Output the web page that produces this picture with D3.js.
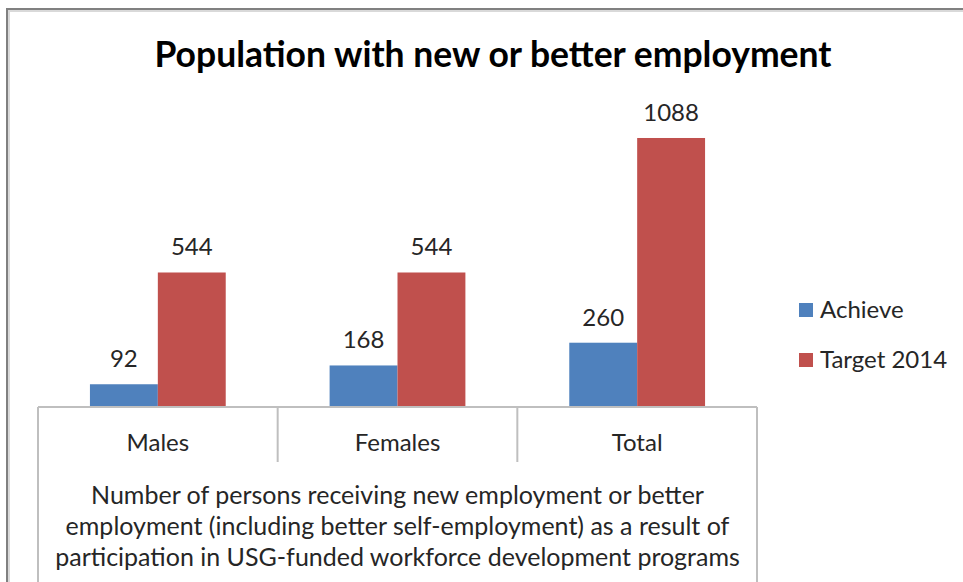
<!DOCTYPE html>
<html>
<head>
<meta charset="utf-8">
<script src="https://cdn.jsdelivr.net/npm/d3@7"></script>
<style>
  html, body { margin: 0; padding: 0; background: #fff; }
  svg { display: block; }
  text { font-family: Lato, "Open Sans", sans-serif; fill: #262626; }
</style>
</head>
<body>
<svg id="chart" width="963" height="582"></svg>
<script>
// Chart data
const categories = ["Males", "Females", "Total"];
const seriesNames = ["Achieve", "Target 2014"];
const achieveValues = [92, 168, 260];
const targetValues = [544, 544, 1088];
const seriesColors = ["#4F81BD", "#C0504D"];
const titleText = "Population with new or better employment";
const axisTitleLines = [
  "Number of persons receiving new employment or better",
  "employment (including better self-employment) as a result of",
  "participation in USG-funded workforce development programs"
];

const svg = d3.select("#chart");

// outer chart frame
svg.append("path")
  .attr("d", "M8,582 V10 H963")
  .attr("fill", "none")
  .attr("stroke", "#d9d9d9")
  .attr("stroke-width", 4);
svg.append("path")
  .attr("d", "M7,582 V9 H963")
  .attr("fill", "none")
  .attr("stroke", "#808080")
  .attr("stroke-width", 2);

// plot area geometry
const plotLeft = 38, plotRight = 757, baseY = 407, topY = 110.3;

const x0 = d3.scaleBand().domain(categories).range([plotLeft, plotRight]).paddingInner(0).paddingOuter(0);
const x1 = d3.scaleBand().domain(seriesNames).range([0, x0.bandwidth()]).paddingInner(0).paddingOuter(0.765);
const y = d3.scaleLinear().domain([0, 1200]).range([baseY, topY]);

const rows = categories.map((c, i) => ({
  category: c,
  values: [achieveValues[i], targetValues[i]]
}));

// bars
const groups = svg.append("g").selectAll("g")
  .data(rows).join("g")
  .attr("transform", d => `translate(${x0(d.category)},0)`);

groups.selectAll("rect")
  .data(d => d.values.map((v, j) => ({ series: seriesNames[j], value: v, color: seriesColors[j] })))
  .join("rect")
  .attr("x", d => x1(d.series))
  .attr("width", x1.bandwidth())
  .attr("y", d => y(d.value))
  .attr("height", d => y(0) - y(d.value))
  .attr("fill", d => d.color);

// value labels
groups.selectAll("text")
  .data(d => d.values.map((v, j) => ({ series: seriesNames[j], value: v })))
  .join("text")
  .attr("x", d => x1(d.series) + x1.bandwidth() / 2)
  .attr("y", d => y(d.value) - 17)
  .attr("text-anchor", "middle")
  .attr("font-size", 24)
  .text(d => d.value);

// category axis drawn as a table: baseline, dividers and outer edges
const axisG = svg.append("g").attr("stroke", "#bfbfbf").attr("stroke-width", 2);
axisG.append("line").attr("x1", plotLeft).attr("x2", plotRight).attr("y1", baseY).attr("y2", baseY);
const edges = categories.map(c => x0(c)).concat([plotRight]);
axisG.selectAll("line.edge")
  .data(edges).join("line")
  .attr("class", "edge")
  .attr("x1", d => d).attr("x2", d => d)
  .attr("y1", baseY)
  .attr("y2", (d, i) => (i === 0 || i === edges.length - 1) ? 582 : 462);

svg.append("g").selectAll("text")
  .data(categories).join("text")
  .attr("x", d => x0(d) + x0.bandwidth() / 2)
  .attr("y", 451)
  .attr("text-anchor", "middle")
  .attr("font-size", 24)
  .text(d => d);

// axis title
svg.append("g").selectAll("text")
  .data(axisTitleLines).join("text")
  .attr("x", (plotLeft + plotRight) / 2)
  .attr("y", (d, i) => 504 + i * 31)
  .attr("text-anchor", "middle")
  .attr("font-size", 25)
  .text(d => d);

// chart title
svg.append("text")
  .attr("x", 493)
  .attr("y", 67)
  .attr("text-anchor", "middle")
  .attr("font-size", 35.5)
  .attr("font-weight", "bold")
  .style("fill", "#000")
  .text(titleText);

// legend
const legend = svg.append("g").selectAll("g")
  .data(seriesNames).join("g")
  .attr("transform", (d, i) => `translate(799,${303 + i * 50})`);
legend.append("rect")
  .attr("width", 14).attr("height", 14)
  .attr("fill", (d, i) => seriesColors[i]);
legend.append("text")
  .attr("x", 21).attr("y", 15)
  .attr("font-size", 24)
  .text(d => d);
</script>
</body>
</html>
